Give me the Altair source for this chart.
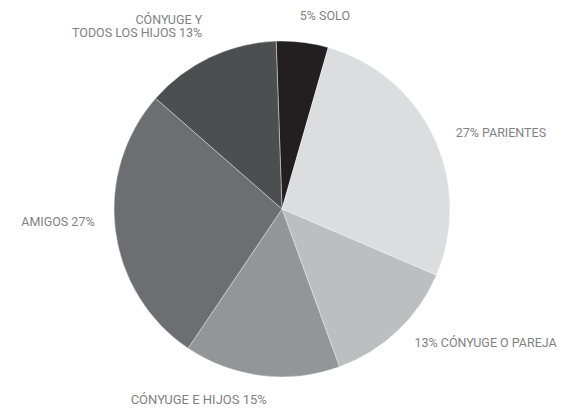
import altair as alt
import pandas as pd
import math

categories = ["SOLO", "PARIENTES", "CÓNYUGE O PAREJA", "CÓNYUGE E HIJOS", "AMIGOS", "CÓNYUGE Y TODOS LOS HIJOS"]
values = [5, 27, 13, 15, 27, 13]
labels = ["5% SOLO", "27% PARIENTES", "13% CÓNYUGE O PAREJA", "CÓNYUGE E HIJOS 15%", "AMIGOS 27%", "CÓNYUGE Y\nTODOS LOS HIJOS 13%"]
colors = ["#231f20", "#dcddde", "#bcbec0", "#939598", "#6d6e71", "#4d4e50"]

df = pd.DataFrame({"cat": categories, "value": values, "label": labels, "order": list(range(len(values)))})

start = math.radians(-2)
theta_scale = alt.Scale(domain=[0, 100], range=[start, start + 2 * math.pi])

base = alt.Chart(df).transform_window(
    cum="sum(value)", sort=[alt.SortField("order")], frame=[None, 0]
).transform_calculate(
    s="datum.cum - datum.value", mid="datum.cum - datum.value / 2"
)

pie = base.mark_arc(outerRadius=168, stroke="#ffffff", strokeWidth=0.4).encode(
    theta=alt.Theta("s:Q", scale=theta_scale),
    theta2="cum:Q",
    color=alt.Color("cat:N", scale=alt.Scale(domain=categories, range=colors), legend=None),
)

label_specs = {
    "SOLO": dict(radius=195, align="left", dx=-6, dy=1, size=12.5),
    "PARIENTES": dict(radius=190, align="left", dx=2, dy=5, size=12.5),
    "CÓNYUGE O PAREJA": dict(radius=190, align="left", dx=2, dy=-4, size=12.5),
    "CÓNYUGE E HIJOS": dict(radius=190, align="right", dx=8, dy=2, size=13),
    "AMIGOS": dict(radius=190, align="right", dx=1, dy=-11, size=12.5),
    "CÓNYUGE Y TODOS LOS HIJOS": dict(radius=200, align="right", dx=6, dy=-8, size=12.5),
}

layers = [pie]
for cat, spec in label_specs.items():
    layers.append(
        base.transform_filter(alt.datum.cat == cat).mark_text(
            radius=spec["radius"], align=spec["align"], baseline="middle",
            dx=spec["dx"], dy=spec["dy"], font="Roboto", fontSize=spec["size"],
            color="#808285", lineBreak="\n", lineHeight=13,
        ).encode(theta=alt.Theta("mid:Q", scale=theta_scale), text="label:N")
    )

chart = alt.layer(*layers).properties(
    width=548, height=402,
    padding={"left": 0, "top": 0, "right": 6, "bottom": 0},
    autosize=alt.AutoSizeParams(type="none"),
).configure_view(stroke=None, clip=False).configure(background="white")

chart.save("out.html", embed_options={"renderer": "svg", "actions": False})
